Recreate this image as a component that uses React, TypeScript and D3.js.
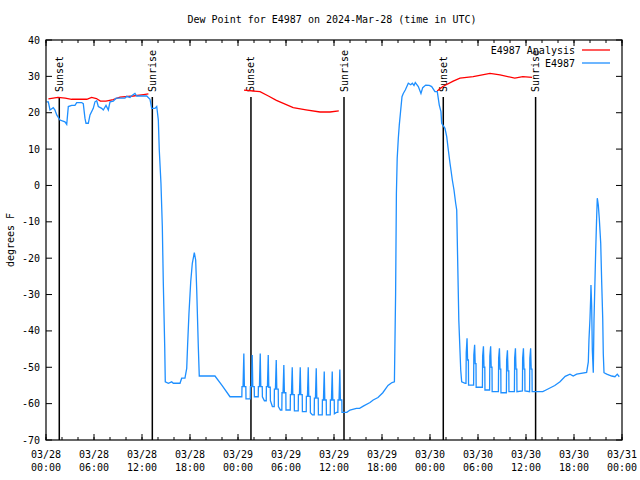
import React from "react";
import * as d3 from "d3";

// time in hours since 2024-03-28 00:00 UTC
const title = "Dew Point for E4987 on 2024-Mar-28 (time in UTC)";
const yLabel = "degrees F";
const seriesNames = ["E4987 Analysis", "E4987"];
const seriesColors = ["#ff0000", "#1e8fff"];
const yTicks = [40, 30, 20, 10, 0, -10, -20, -30, -40, -50, -60, -70];

const sunEvents: [number, string][] = [
  [1.66, "Sunset"], [13.29, "Sunrise"], [25.62, "Sunset"],
  [37.25, "Sunrise"], [49.66, "Sunset"], [61.2, "Sunrise"],
];

const analysisSegments: [number, number][][] = [
  [
    [0.3, 23.8], [1.5, 24.2], [2.4, 24.0], [3.2, 23.7], [5.1, 23.7], [5.7, 24.2],
    [6.3, 23.9], [6.8, 23.2], [7.5, 23.2], [8.4, 23.6], [9.25, 24.3], [10.9, 24.6],
    [12.2, 25.0], [12.8, 25.2],
  ],
  [
    [24.75, 26.2], [26.75, 25.8], [27.8, 24.6], [28.8, 23.4], [30.9, 21.4],
    [32.5, 20.8], [34.25, 20.2], [35.5, 20.2], [36.6, 20.5],
  ],
  [
    [48.9, 26.0], [49.6, 27.2], [50.9, 28.7], [51.75, 29.5], [53.4, 29.9],
    [55.5, 30.8], [56.75, 30.4], [58.6, 29.5], [59.6, 29.9], [60.75, 29.7],
  ],
];

const observed: [number, number][] = [
  [0.05, 23.0], [0.29, 23.0], [0.5, 20.75], [0.91, 21.4], [1.12, 20.75], [1.34, 19.4],
  [1.75, 18], [2.37, 17.5], [2.59, 16.8], [2.79, 21.7], [3.21, 22], [3.62, 22],
  [3.84, 22.8], [4.46, 22.8], [4.66, 22.5], [4.87, 18.5], [5.0, 17.1], [5.29, 17.1],
  [5.5, 19.4], [5.91, 21.2], [6.12, 23], [6.34, 23.3], [6.54, 21.7], [6.96, 21.2],
  [7.16, 20.75], [7.5, 22], [7.79, 20.75], [8.0, 23], [8.41, 23.2], [8.75, 24],
  [9.87, 24], [10.09, 24.5], [10.5, 24.2], [10.71, 24.7], [11.12, 25.3], [11.34, 24.6],
  [12.59, 24.6], [13.0, 23.7], [13.21, 21.2], [13.62, 21.2], [13.84, 21.7], [14.04, 18],
  [14.16, 9.75], [14.37, 0.6], [14.54, -11.3], [14.66, -26.5], [14.84, -44.4],
  [14.91, -54], [15.29, -54.4], [15.71, -54], [15.91, -54.4], [16.75, -54.4],
  [16.96, -53], [17.37, -53], [17.59, -50.3], [17.71, -43.4], [17.87, -35.2],
  [18.09, -26.5], [18.29, -21.4], [18.54, -18.5], [18.71, -20.5], [18.84, -28.75],
  [19.04, -44.4], [19.16, -52.4], [21.12, -52.4], [22.0, -55], [23.0, -58.1],
  [24.48, -58.1], [24.5, -55.3], [24.63, -55.3], [24.73, -46.2], [24.8, -55.3], [24.98, -55.3], [25.0, -58.7],
  [25.53, -58.7], [25.55, -55.3], [25.68, -55.3], [25.78, -46.6], [25.85, -55.3], [26.03, -55.3], [26.05, -58.1],
  [26.53, -58.1], [26.55, -55.3], [26.68, -55.3], [26.78, -46.2], [26.85, -55.3], [27.03, -55.3], [27.05, -58.1],
  [27.3, -59.2],
  [27.53, -59.2], [27.55, -55.3], [27.68, -55.3], [27.78, -46.6], [27.85, -55.5], [28.03, -55.5], [28.05, -59.2],
  [28.3, -60.8],
  [28.53, -60.8], [28.55, -56], [28.68, -56], [28.78, -48], [28.85, -56], [29.03, -56], [29.05, -60.8],
  [29.3, -61.75],
  [29.48, -61.75], [29.5, -57], [29.63, -57], [29.73, -49.4], [29.8, -57], [29.98, -57], [30.0, -61.75],
  [30.53, -61.75], [30.55, -57.5], [30.68, -57.5], [30.78, -50], [30.85, -57.5], [31.03, -57.5], [31.05, -62],
  [31.53, -62], [31.55, -57.5], [31.68, -57.5], [31.78, -50], [31.85, -57.5], [32.03, -57.5], [32.05, -62.2],
  [32.53, -62.2], [32.55, -58], [32.68, -58], [32.78, -50], [32.85, -58], [33.03, -58], [33.05, -62.5],
  [33.3, -63.1],
  [33.53, -63.1], [33.55, -58.5], [33.68, -58.5], [33.78, -50.3], [33.85, -58.5], [34.03, -58.5], [34.05, -63.1],
  [34.53, -63.1], [34.55, -59], [34.68, -59], [34.78, -51.2], [34.85, -59], [35.03, -59], [35.05, -63.1],
  [35.53, -63.1], [35.55, -59], [35.68, -59], [35.78, -51.2], [35.85, -59], [36.03, -59], [36.05, -62.8],
  [36.3, -62.4],
  [36.48, -62.4], [36.5, -59], [36.63, -59], [36.73, -50.6], [36.8, -59], [36.98, -59], [37.0, -62.4],
  [37.6, -62.4], [38.0, -61.75], [38.8, -61.3], [39.2, -61.3], [39.66, -60.7],
  [40.5, -59.7], [40.9, -59], [41.5, -58.3], [42.1, -57], [42.75, -55],
  [43.25, -54.2], [43.55, -54], [43.7, -30], [43.8, -2.2], [43.9, 7.5],
  [44.04, 13], [44.16, 16.6], [44.34, 20.75], [44.5, 24.4], [44.66, 25.3],
  [44.91, 26.25], [45.29, 28.1], [45.59, 27.7], [45.79, 28.1], [46.0, 27.5],
  [46.16, 28.3], [46.54, 27.2], [46.87, 25.3], [47.09, 26.9], [47.46, 27.6],
  [47.91, 27.5], [48.21, 27.2], [48.62, 25.8], [48.91, 25.8], [49.16, 22.1],
  [49.37, 20.3], [49.46, 17.1], [49.87, 15.7], [50.09, 13.4], [50.29, 9.75],
  [50.5, 6.1], [50.62, 4.25], [50.79, 1.5], [51.0, -1.25], [51.21, -4.9],
  [51.34, -6.75], [51.6, -37], [51.84, -50.75], [51.96, -54], [52.4, -54.4],
  [52.5, -54.4], [52.53, -46], [52.63, -42], [52.7, -48], [52.8, -48], [52.82, -54.9],
  [53.45, -54.9], [53.48, -46.6], [53.58, -43.8], [53.65, -49], [53.75, -49], [53.77, -55.5],
  [54.55, -55.5], [54.58, -47], [54.68, -44.2], [54.75, -50], [54.85, -50], [54.87, -56.25],
  [55.45, -56.25], [55.48, -47], [55.58, -44.2], [55.65, -50], [55.75, -50], [55.77, -56.7],
  [56.55, -56.7], [56.58, -47.5], [56.68, -44.8], [56.75, -50.5], [56.85, -50.5], [56.87, -57],
  [57.55, -57], [57.58, -48], [57.68, -45.3], [57.75, -51], [57.85, -51], [57.87, -56.7],
  [58.55, -56.7], [58.58, -47.5], [58.68, -44.8], [58.75, -50.5], [58.85, -50.5], [58.87, -56.7],
  [59.55, -56.5], [59.58, -47.5], [59.68, -44.8], [59.75, -50.5], [59.85, -50.5], [59.87, -56.5],
  [60.45, -56.7], [60.48, -47.5], [60.58, -44.8], [60.65, -50.5], [60.75, -50.5], [60.77, -56.7],
  [62.1, -56.7], [62.5, -56.25], [63.6, -55], [64.25, -54], [64.9, -52.5],
  [65.5, -51.9], [65.9, -52.4], [66.33, -51.9], [67.58, -51.4], [67.79, -48.5],
  [67.87, -42.5], [68.0, -36.5], [68.09, -30.6], [68.12, -27.4], [68.21, -33.3],
  [68.29, -45.25], [68.41, -51.5], [68.5, -37], [68.71, -18.2], [68.84, -8.1],
  [68.91, -3.5], [69.04, -5.4], [69.16, -9], [69.34, -15.9], [69.46, -26.5],
  [69.59, -36.5], [69.66, -46.2], [69.75, -51.5], [70.09, -51.9], [70.71, -52.4],
  [71.12, -52.6], [71.41, -51.9], [71.66, -52.6],
];

const start = Date.UTC(2024, 2, 28);
const hoursToDate = (h: number) => new Date(start + h * 3600 * 1000);

export default function App() {
  const W = 640, H = 480;
  const m = { left: 46, right: 622, top: 40, bottom: 440 };
  const x = d3.scaleUtc().domain([hoursToDate(0), hoursToDate(72)]).range([m.left, m.right]);
  const y = d3.scaleLinear().domain([-70, 40]).range([m.bottom, m.top]);
  const line = d3.line<[number, number]>().x((d) => x(hoursToDate(d[0]))).y((d) => y(d[1]));
  const majorX = d3.utcHour.every(6)!.range(hoursToDate(0), hoursToDate(72.01));
  const minorX = d3.utcHour.every(2)!.range(hoursToDate(0), hoursToDate(72.01));
  const fmtDate = d3.utcFormat("%m/%d");
  const fmtTime = d3.utcFormat("%H:%M");
  const font = "'DejaVu Sans Mono', monospace";

  return (
    <svg width={W} height={H} style={{ position: "absolute", left: 0, top: 0, background: "#fff" }}
      fontFamily={font} fontSize={10}>
      <rect width={W} height={H} fill="#fff" />
      <text x={332} y={23} textAnchor="middle">{title}</text>
      <text transform={`translate(14,${(m.top + m.bottom) / 2}) rotate(-90)`} textAnchor="middle">{yLabel}</text>

      {yTicks.map((t) => (
        <g key={"y" + t}>
          <line x1={m.left} x2={m.left + 6} y1={y(t)} y2={y(t)} stroke="#000" />
          <line x1={m.right} x2={m.right - 6} y1={y(t)} y2={y(t)} stroke="#000" />
          <text x={m.left - 6} y={y(t)} dy="0.35em" textAnchor="end">{t}</text>
        </g>
      ))}
      {minorX.map((d, i) => (
        <g key={"mx" + i}>
          <line x1={x(d)} x2={x(d)} y1={m.bottom} y2={m.bottom - 3} stroke="#000" />
          <line x1={x(d)} x2={x(d)} y1={m.top} y2={m.top + 3} stroke="#000" />
        </g>
      ))}
      {majorX.map((d, i) => (
        <g key={"x" + i}>
          <line x1={x(d)} x2={x(d)} y1={m.bottom} y2={m.bottom - 6} stroke="#000" />
          <line x1={x(d)} x2={x(d)} y1={m.top} y2={m.top + 6} stroke="#000" />
          <text x={x(d)} y={458} textAnchor="middle">{fmtDate(d)}</text>
          <text x={x(d)} y={471} textAnchor="middle">{fmtTime(d)}</text>
        </g>
      ))}

      {sunEvents.map(([h, label], i) => (
        <g key={"s" + i}>
          <line x1={x(hoursToDate(h))} x2={x(hoursToDate(h))} y1={97} y2={m.bottom} stroke="#000" strokeWidth={1.5} />
          <text transform={`translate(${x(hoursToDate(h))},92) rotate(-90)`} dy="0.35em">{label}</text>
        </g>
      ))}

      {analysisSegments.map((seg, i) => (
        <path key={"a" + i} d={line(seg) || ""} fill="none" stroke={seriesColors[0]} strokeWidth={1.3} />
      ))}
      <path d={line(observed) || ""} fill="none" stroke={seriesColors[1]} strokeWidth={1.3} />

      {seriesNames.map((n, i) => (
        <g key={"l" + i}>
          <text x={575} y={50 + i * 13} dy="0.35em" textAnchor="end">{n}</text>
          <line x1={582} x2={610} y1={50 + i * 13} y2={50 + i * 13} stroke={seriesColors[i]} strokeWidth={1.3} />
        </g>
      ))}

      <rect x={m.left} y={m.top} width={m.right - m.left} height={m.bottom - m.top} fill="none" stroke="#000" strokeWidth={1.2} />
    </svg>
  );
}
